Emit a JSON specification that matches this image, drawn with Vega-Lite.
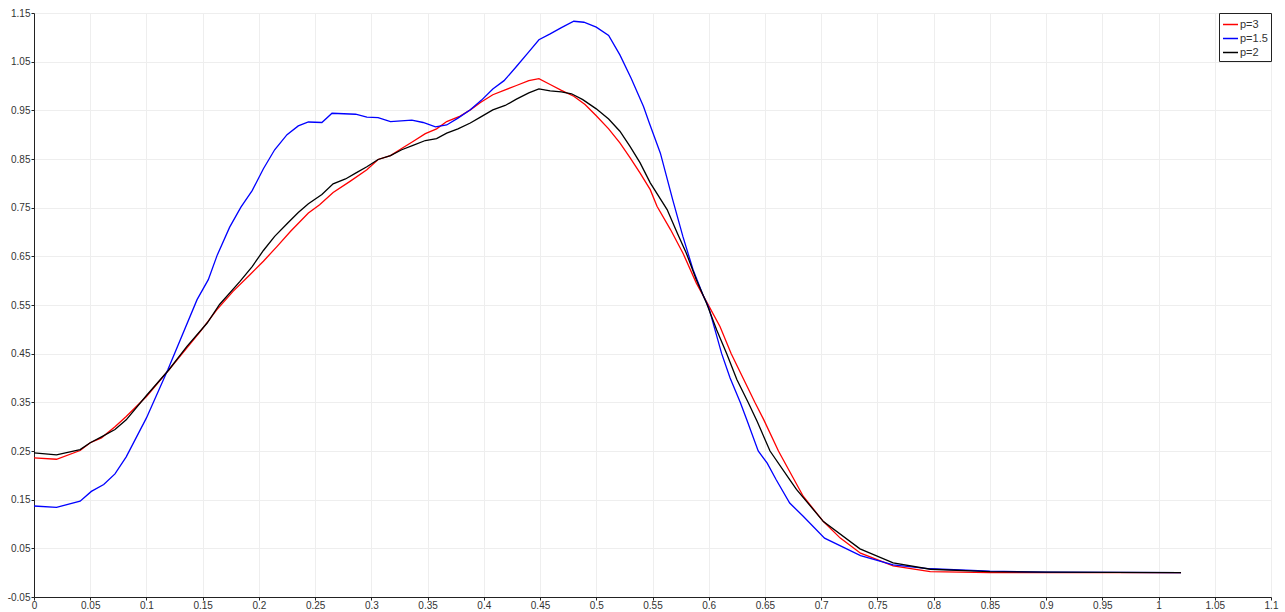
{
  "$schema": "https://vega.github.io/schema/vega-lite/v6.json",
  "width": 1237,
  "height": 584,
  "autosize": "none",
  "padding": {"left": 34, "top": 13, "right": 14, "bottom": 15},
  "background": "white",
  "config": {
    "font": "Liberation Sans",
    "view": {"stroke": null},
    "axis": {
      "labelFont": "Liberation Sans",
      "labelFontSize": 10,
      "labelColor": "#333333",
      "domainColor": "#222222",
      "tickColor": "#222222",
      "gridColor": "#eeeeee",
      "tickSize": 3,
      "labelPadding": 1,
      "title": null
    }
  },
  "datasets": {
    "curves": [
      {"x": 0, "y": 0.236, "series": "p=3"},
      {"x": 0.02, "y": 0.233, "series": "p=3"},
      {"x": 0.041, "y": 0.251, "series": "p=3"},
      {"x": 0.05, "y": 0.267, "series": "p=3"},
      {"x": 0.06, "y": 0.277, "series": "p=3"},
      {"x": 0.072, "y": 0.3, "series": "p=3"},
      {"x": 0.082, "y": 0.321, "series": "p=3"},
      {"x": 0.1, "y": 0.362, "series": "p=3"},
      {"x": 0.12, "y": 0.417, "series": "p=3"},
      {"x": 0.148, "y": 0.496, "series": "p=3"},
      {"x": 0.1625, "y": 0.54, "series": "p=3"},
      {"x": 0.177, "y": 0.578, "series": "p=3"},
      {"x": 0.192, "y": 0.612, "series": "p=3"},
      {"x": 0.204, "y": 0.64, "series": "p=3"},
      {"x": 0.216, "y": 0.67, "series": "p=3"},
      {"x": 0.228, "y": 0.701, "series": "p=3"},
      {"x": 0.244, "y": 0.739, "series": "p=3"},
      {"x": 0.254, "y": 0.756, "series": "p=3"},
      {"x": 0.266, "y": 0.781, "series": "p=3"},
      {"x": 0.281, "y": 0.804, "series": "p=3"},
      {"x": 0.296, "y": 0.828, "series": "p=3"},
      {"x": 0.306, "y": 0.849, "series": "p=3"},
      {"x": 0.317, "y": 0.857, "series": "p=3"},
      {"x": 0.328, "y": 0.873, "series": "p=3"},
      {"x": 0.337, "y": 0.886, "series": "p=3"},
      {"x": 0.348, "y": 0.902, "series": "p=3"},
      {"x": 0.358, "y": 0.912, "series": "p=3"},
      {"x": 0.367, "y": 0.927, "series": "p=3"},
      {"x": 0.379, "y": 0.938, "series": "p=3"},
      {"x": 0.388, "y": 0.951, "series": "p=3"},
      {"x": 0.397, "y": 0.966, "series": "p=3"},
      {"x": 0.408, "y": 0.982, "series": "p=3"},
      {"x": 0.419, "y": 0.992, "series": "p=3"},
      {"x": 0.429, "y": 1.001, "series": "p=3"},
      {"x": 0.44, "y": 1.011, "series": "p=3"},
      {"x": 0.449, "y": 1.015, "series": "p=3"},
      {"x": 0.459, "y": 1.003, "series": "p=3"},
      {"x": 0.469, "y": 0.991, "series": "p=3"},
      {"x": 0.48, "y": 0.979, "series": "p=3"},
      {"x": 0.49, "y": 0.962, "series": "p=3"},
      {"x": 0.5, "y": 0.939, "series": "p=3"},
      {"x": 0.511, "y": 0.912, "series": "p=3"},
      {"x": 0.521, "y": 0.883, "series": "p=3"},
      {"x": 0.53, "y": 0.853, "series": "p=3"},
      {"x": 0.539, "y": 0.821, "series": "p=3"},
      {"x": 0.548, "y": 0.787, "series": "p=3"},
      {"x": 0.554, "y": 0.753, "series": "p=3"},
      {"x": 0.566, "y": 0.705, "series": "p=3"},
      {"x": 0.577, "y": 0.657, "series": "p=3"},
      {"x": 0.589, "y": 0.595, "series": "p=3"},
      {"x": 0.598, "y": 0.557, "series": "p=3"},
      {"x": 0.61, "y": 0.506, "series": "p=3"},
      {"x": 0.62, "y": 0.45, "series": "p=3"},
      {"x": 0.641, "y": 0.35, "series": "p=3"},
      {"x": 0.649, "y": 0.314, "series": "p=3"},
      {"x": 0.662, "y": 0.25, "series": "p=3"},
      {"x": 0.684, "y": 0.157, "series": "p=3"},
      {"x": 0.702, "y": 0.105, "series": "p=3"},
      {"x": 0.717, "y": 0.071, "series": "p=3"},
      {"x": 0.735, "y": 0.04, "series": "p=3"},
      {"x": 0.764, "y": 0.014, "series": "p=3"},
      {"x": 0.797, "y": 0.002, "series": "p=3"},
      {"x": 0.85, "y": 0.0, "series": "p=3"},
      {"x": 0.9, "y": 0.0, "series": "p=3"},
      {"x": 1.02, "y": 0.0, "series": "p=3"},

      {"x": 0, "y": 0.137, "series": "p=1.5"},
      {"x": 0.02, "y": 0.134, "series": "p=1.5"},
      {"x": 0.041, "y": 0.147, "series": "p=1.5"},
      {"x": 0.051, "y": 0.167, "series": "p=1.5"},
      {"x": 0.062, "y": 0.181, "series": "p=1.5"},
      {"x": 0.072, "y": 0.203, "series": "p=1.5"},
      {"x": 0.082, "y": 0.238, "series": "p=1.5"},
      {"x": 0.1, "y": 0.318, "series": "p=1.5"},
      {"x": 0.119, "y": 0.417, "series": "p=1.5"},
      {"x": 0.145, "y": 0.561, "series": "p=1.5"},
      {"x": 0.155, "y": 0.602, "series": "p=1.5"},
      {"x": 0.163, "y": 0.653, "series": "p=1.5"},
      {"x": 0.174, "y": 0.71, "series": "p=1.5"},
      {"x": 0.184, "y": 0.751, "series": "p=1.5"},
      {"x": 0.194, "y": 0.785, "series": "p=1.5"},
      {"x": 0.204, "y": 0.83, "series": "p=1.5"},
      {"x": 0.214, "y": 0.869, "series": "p=1.5"},
      {"x": 0.225, "y": 0.9, "series": "p=1.5"},
      {"x": 0.235, "y": 0.918, "series": "p=1.5"},
      {"x": 0.244, "y": 0.926, "series": "p=1.5"},
      {"x": 0.256, "y": 0.925, "series": "p=1.5"},
      {"x": 0.265, "y": 0.944, "series": "p=1.5"},
      {"x": 0.286, "y": 0.942, "series": "p=1.5"},
      {"x": 0.296, "y": 0.936, "series": "p=1.5"},
      {"x": 0.306, "y": 0.935, "series": "p=1.5"},
      {"x": 0.317, "y": 0.927, "series": "p=1.5"},
      {"x": 0.336, "y": 0.93, "series": "p=1.5"},
      {"x": 0.346, "y": 0.925, "series": "p=1.5"},
      {"x": 0.357, "y": 0.916, "series": "p=1.5"},
      {"x": 0.367, "y": 0.92, "series": "p=1.5"},
      {"x": 0.377, "y": 0.934, "series": "p=1.5"},
      {"x": 0.388, "y": 0.951, "series": "p=1.5"},
      {"x": 0.398, "y": 0.971, "series": "p=1.5"},
      {"x": 0.408, "y": 0.994, "series": "p=1.5"},
      {"x": 0.418, "y": 1.011, "series": "p=1.5"},
      {"x": 0.429, "y": 1.04, "series": "p=1.5"},
      {"x": 0.44, "y": 1.07, "series": "p=1.5"},
      {"x": 0.449, "y": 1.095, "series": "p=1.5"},
      {"x": 0.459, "y": 1.107, "series": "p=1.5"},
      {"x": 0.469, "y": 1.12, "series": "p=1.5"},
      {"x": 0.48, "y": 1.133, "series": "p=1.5"},
      {"x": 0.489, "y": 1.131, "series": "p=1.5"},
      {"x": 0.5, "y": 1.121, "series": "p=1.5"},
      {"x": 0.511, "y": 1.104, "series": "p=1.5"},
      {"x": 0.521, "y": 1.064, "series": "p=1.5"},
      {"x": 0.531, "y": 1.016, "series": "p=1.5"},
      {"x": 0.542, "y": 0.958, "series": "p=1.5"},
      {"x": 0.547, "y": 0.925, "series": "p=1.5"},
      {"x": 0.557, "y": 0.862, "series": "p=1.5"},
      {"x": 0.568, "y": 0.766, "series": "p=1.5"},
      {"x": 0.577, "y": 0.691, "series": "p=1.5"},
      {"x": 0.586, "y": 0.623, "series": "p=1.5"},
      {"x": 0.595, "y": 0.57, "series": "p=1.5"},
      {"x": 0.6, "y": 0.545, "series": "p=1.5"},
      {"x": 0.6115, "y": 0.45, "series": "p=1.5"},
      {"x": 0.619, "y": 0.4, "series": "p=1.5"},
      {"x": 0.628, "y": 0.35, "series": "p=1.5"},
      {"x": 0.634, "y": 0.313, "series": "p=1.5"},
      {"x": 0.644, "y": 0.25, "series": "p=1.5"},
      {"x": 0.652, "y": 0.225, "series": "p=1.5"},
      {"x": 0.66, "y": 0.191, "series": "p=1.5"},
      {"x": 0.672, "y": 0.143, "series": "p=1.5"},
      {"x": 0.684, "y": 0.116, "series": "p=1.5"},
      {"x": 0.703, "y": 0.071, "series": "p=1.5"},
      {"x": 0.735, "y": 0.035, "series": "p=1.5"},
      {"x": 0.764, "y": 0.016, "series": "p=1.5"},
      {"x": 0.797, "y": 0.008, "series": "p=1.5"},
      {"x": 0.85, "y": 0.003, "series": "p=1.5"},
      {"x": 0.9, "y": 0.001, "series": "p=1.5"},
      {"x": 1.02, "y": 0.0, "series": "p=1.5"},

      {"x": 0, "y": 0.246, "series": "p=2"},
      {"x": 0.02, "y": 0.242, "series": "p=2"},
      {"x": 0.041, "y": 0.253, "series": "p=2"},
      {"x": 0.05, "y": 0.267, "series": "p=2"},
      {"x": 0.06, "y": 0.279, "series": "p=2"},
      {"x": 0.072, "y": 0.294, "series": "p=2"},
      {"x": 0.082, "y": 0.314, "series": "p=2"},
      {"x": 0.1, "y": 0.364, "series": "p=2"},
      {"x": 0.12, "y": 0.417, "series": "p=2"},
      {"x": 0.136, "y": 0.465, "series": "p=2"},
      {"x": 0.154, "y": 0.513, "series": "p=2"},
      {"x": 0.165, "y": 0.551, "series": "p=2"},
      {"x": 0.183, "y": 0.598, "series": "p=2"},
      {"x": 0.194, "y": 0.629, "series": "p=2"},
      {"x": 0.204, "y": 0.662, "series": "p=2"},
      {"x": 0.214, "y": 0.691, "series": "p=2"},
      {"x": 0.225, "y": 0.717, "series": "p=2"},
      {"x": 0.235, "y": 0.74, "series": "p=2"},
      {"x": 0.244, "y": 0.758, "series": "p=2"},
      {"x": 0.256, "y": 0.777, "series": "p=2"},
      {"x": 0.266, "y": 0.799, "series": "p=2"},
      {"x": 0.277, "y": 0.809, "series": "p=2"},
      {"x": 0.286, "y": 0.821, "series": "p=2"},
      {"x": 0.296, "y": 0.834, "series": "p=2"},
      {"x": 0.306, "y": 0.849, "series": "p=2"},
      {"x": 0.317, "y": 0.857, "series": "p=2"},
      {"x": 0.327, "y": 0.869, "series": "p=2"},
      {"x": 0.337, "y": 0.878, "series": "p=2"},
      {"x": 0.348, "y": 0.888, "series": "p=2"},
      {"x": 0.358, "y": 0.892, "series": "p=2"},
      {"x": 0.367, "y": 0.903, "series": "p=2"},
      {"x": 0.377, "y": 0.912, "series": "p=2"},
      {"x": 0.388, "y": 0.924, "series": "p=2"},
      {"x": 0.397, "y": 0.936, "series": "p=2"},
      {"x": 0.408, "y": 0.951, "series": "p=2"},
      {"x": 0.419, "y": 0.96, "series": "p=2"},
      {"x": 0.429, "y": 0.973, "series": "p=2"},
      {"x": 0.44, "y": 0.986, "series": "p=2"},
      {"x": 0.449, "y": 0.994, "series": "p=2"},
      {"x": 0.459, "y": 0.99, "series": "p=2"},
      {"x": 0.469, "y": 0.988, "series": "p=2"},
      {"x": 0.478, "y": 0.984, "series": "p=2"},
      {"x": 0.488, "y": 0.972, "series": "p=2"},
      {"x": 0.5, "y": 0.953, "series": "p=2"},
      {"x": 0.511, "y": 0.932, "series": "p=2"},
      {"x": 0.521, "y": 0.907, "series": "p=2"},
      {"x": 0.53, "y": 0.876, "series": "p=2"},
      {"x": 0.539, "y": 0.842, "series": "p=2"},
      {"x": 0.548, "y": 0.801, "series": "p=2"},
      {"x": 0.563, "y": 0.746, "series": "p=2"},
      {"x": 0.572, "y": 0.698, "series": "p=2"},
      {"x": 0.58, "y": 0.657, "series": "p=2"},
      {"x": 0.589, "y": 0.602, "series": "p=2"},
      {"x": 0.598, "y": 0.554, "series": "p=2"},
      {"x": 0.607, "y": 0.499, "series": "p=2"},
      {"x": 0.616, "y": 0.45, "series": "p=2"},
      {"x": 0.625, "y": 0.397, "series": "p=2"},
      {"x": 0.635, "y": 0.35, "series": "p=2"},
      {"x": 0.643, "y": 0.311, "series": "p=2"},
      {"x": 0.6545, "y": 0.25, "series": "p=2"},
      {"x": 0.672, "y": 0.191, "series": "p=2"},
      {"x": 0.678, "y": 0.171, "series": "p=2"},
      {"x": 0.702, "y": 0.105, "series": "p=2"},
      {"x": 0.7345, "y": 0.049, "series": "p=2"},
      {"x": 0.764, "y": 0.02, "series": "p=2"},
      {"x": 0.797, "y": 0.007, "series": "p=2"},
      {"x": 0.85, "y": 0.002, "series": "p=2"},
      {"x": 0.9, "y": 0.001, "series": "p=2"},
      {"x": 1.02, "y": 0.0, "series": "p=2"}
    ]
  },
  "data": {"name": "curves"},
  "mark": {"type": "line", "strokeWidth": 1.3, "clip": true},
  "encoding": {
    "x": {
      "field": "x",
      "type": "quantitative",
      "scale": {"domain": [0, 1.1], "nice": false, "zero": false},
      "axis": {
        "values": [0, 0.05, 0.1, 0.15, 0.2, 0.25, 0.3, 0.35, 0.4, 0.45, 0.5, 0.55, 0.6, 0.65, 0.7, 0.75, 0.8, 0.85, 0.9, 0.95, 1, 1.05, 1.1],
        "labelExpr": "toString(datum.value)",
        "labelFlush": false,
        "labelOverlap": false,
        "labelPadding": 0,
        "grid": true
      }
    },
    "y": {
      "field": "y",
      "type": "quantitative",
      "scale": {"domain": [-0.05, 1.15], "nice": false, "zero": false},
      "axis": {
        "values": [-0.05, 0.05, 0.15, 0.25, 0.35, 0.45, 0.55, 0.65, 0.75, 0.85, 0.95, 1.05, 1.15],
        "labelExpr": "toString(datum.value)",
        "labelFlush": false,
        "labelOverlap": false,
        "grid": true
      }
    },
    "color": {
      "field": "series",
      "type": "nominal",
      "sort": ["p=3", "p=1.5", "p=2"],
      "scale": {"domain": ["p=3", "p=1.5", "p=2"], "range": ["#ff0000", "#0000ff", "#000000"]},
      "legend": {
        "title": null,
        "orient": "top-right",
        "offset": 0,
        "padding": 3,
        "strokeColor": "#222222",
        "fillColor": "white",
        "symbolType": "stroke",
        "symbolSize": 225,
        "symbolStrokeWidth": 1.5,
        "labelFontSize": 11,
        "labelColor": "#333333",
        "labelFont": "Liberation Sans",
        "rowPadding": -1,
        "labelOffset": 1
      }
    }
  }
}
